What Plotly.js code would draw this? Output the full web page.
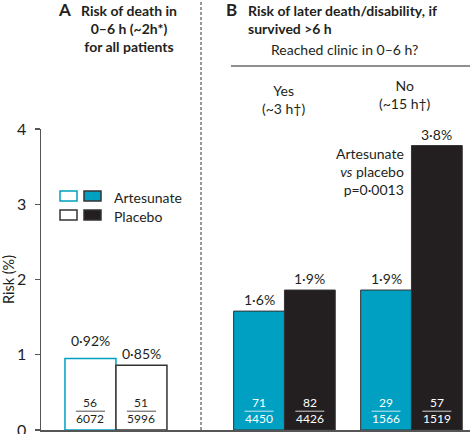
<!DOCTYPE html>
<html><head><meta charset="utf-8">
<script src="https://cdn.plot.ly/plotly-3.0.1.min.js"></script>
<style>html,body{margin:0;padding:0;background:#fff}</style>
</head><body><div id="chart" style="width:474px;height:434px"></div>
<script>
// ---- data ----
const panelACategories = ['All patients'];
const panelBCategories = ['Yes', 'No'];
const artesunateA = [0.95];
const placeboA = [0.86];
const artesunateB = [1.58, 1.86];
const placeboB = [1.86, 3.78];
const artesunateALabels = ['0·92%'];
const placeboALabels = ['0·85%'];
const artesunateBLabels = ['1·6%', '1·9%'];
const placeboBLabels = ['1·9%', '3·8%'];
const artesunateANum = ['56'], artesunateADen = ['6072'];
const placeboANum = ['51'], placeboADen = ['5996'];
const artesunateBNum = ['71', '29'], artesunateBDen = ['4450', '1566'];
const placeboBNum = ['82', '57'], placeboBDen = ['4426', '1519'];
const yTicks = [0, 1, 2, 3, 4];

// ---- styling ----
const FONT = 'Lato, "Noto Sans", sans-serif';
const TXT = '#231f20';
const CYAN = '#00a0c2';
const DARK = '#231f20';
const AXIS = '#555555';
const W = 474, H = 434, ML = 41, MR = 4, MT = 129, MB = 4;
const PW = W - ML - MR, PH = H - MT - MB;
const px = x => (x - ML) / PW;
const py = y => (H - MB - y) / PH;
const split = px(201);

const traces = [
  {type: 'bar', name: 'Artesunate', x: panelACategories, y: artesunateA, xaxis: 'x', yaxis: 'y',
   marker: {color: '#ffffff', line: {color: CYAN, width: 1.5}}, hoverinfo: 'none'},
  {type: 'bar', name: 'Placebo', x: panelACategories, y: placeboA, xaxis: 'x', yaxis: 'y',
   marker: {color: '#ffffff', line: {color: '#333333', width: 1.5}}, hoverinfo: 'none'},
  {type: 'bar', name: 'Artesunate', x: panelBCategories, y: artesunateB, xaxis: 'x2', yaxis: 'y',
   marker: {color: CYAN, line: {color: '#333333', width: 1}}, hoverinfo: 'none'},
  {type: 'bar', name: 'Placebo', x: panelBCategories, y: placeboB, xaxis: 'x2', yaxis: 'y',
   marker: {color: DARK, line: {color: '#333333', width: 1}}, hoverinfo: 'none'}
];

const annotations = [];
const shapes = [];
const OFF = 0.2, HALF = 0.114;
function addBarText(cats, vals, labels, nums, dens, xref, side, fracColor) {
  cats.forEach((c, i) => {
    annotations.push({xref: xref, yref: 'y', x: i + side * OFF, y: vals[i], yanchor: 'bottom',
      yshift: (xref === 'x' && side < 0) ? 8 : 1, text: labels[i], showarrow: false,
      font: {family: FONT, size: 14, color: TXT}});
    annotations.push({xref: xref, yref: 'y', x: i + side * OFF, y: 0.26, yanchor: 'middle',
      text: nums[i] + '<br>' + dens[i], showarrow: false,
      font: {family: FONT, size: 12, color: fracColor}});
    shapes.push({type: 'line', xref: xref, yref: 'y', x0: i + side * OFF - HALF, x1: i + side * OFF + HALF,
      y0: 0.25, y1: 0.25, line: {color: fracColor, width: 0.8}});
  });
}
addBarText(panelACategories, artesunateA, artesunateALabels, artesunateANum, artesunateADen, 'x', -1, TXT);
addBarText(panelACategories, placeboA, placeboALabels, placeboANum, placeboADen, 'x', 1, TXT);
addBarText(panelBCategories, artesunateB, artesunateBLabels, artesunateBNum, artesunateBDen, 'x2', -1, '#ffffff');
addBarText(panelBCategories, placeboB, placeboBLabels, placeboBNum, placeboBDen, 'x2', 1, '#ffffff');

function ptext(text, x, y, opts) {
  annotations.push(Object.assign({xref: 'paper', yref: 'paper', x: px(x), y: py(y), text: text,
    showarrow: false, xanchor: 'center', yanchor: 'middle',
    font: {family: FONT, size: 14, color: TXT}}, opts || {}));
}
// panel titles
ptext('<b>A</b>', 64, 9, {font: {family: FONT, size: 17, color: TXT}});
ptext('<b>Risk of death in<br>0–6 h (~2h*)<br>for all patients</b>', 128.5, 28.5);
ptext('<b>B</b>', 231, 9, {font: {family: FONT, size: 17, color: TXT}});
ptext('<b>Risk of later death/disability, if<br>survived >6 h</b>', 246, 19.5, {xanchor: 'left', align: 'left'});
ptext('Reached clinic in 0–6 h?', 344, 50);
ptext('Yes<br>(~3 h†)', 283, 99);
ptext('No<br>(~15 h†)', 405, 95);
ptext('Artesunate<br><i>vs</i> placebo<br>p=0·0013', 406, 171, {xanchor: 'right', align: 'right'});
// legend
ptext('Artesunate', 112, 197, {xanchor: 'left'});
ptext('Placebo', 112, 216, {xanchor: 'left'});
function pbox(x0, y0, x1, y1, fill, line) {
  shapes.push({type: 'rect', xref: 'paper', yref: 'paper', x0: px(x0), x1: px(x1), y0: py(y1), y1: py(y0),
    fillcolor: fill, line: {color: line, width: 1.5}});
}
pbox(60, 191, 77, 201, '#ffffff', CYAN);
pbox(84, 191, 101, 201, CYAN, '#333333');
pbox(60, 210, 77, 220, '#ffffff', '#333333');
pbox(84, 210, 101, 220, DARK, '#333333');
// dashed divider and bracket line
shapes.push({type: 'line', xref: 'paper', yref: 'paper', x0: split, x1: split, y0: 0, y1: py(0),
  line: {color: AXIS, width: 1.2, dash: '3px,2px'}});
shapes.push({type: 'line', xref: 'paper', yref: 'paper', x0: px(231), x1: px(470), y0: py(66), y1: py(66),
  line: {color: TXT, width: 1.2}});

const xbase = {type: 'category', showline: true, linecolor: AXIS, linewidth: 1.5, ticks: '',
  showticklabels: false, showgrid: false, zeroline: false, fixedrange: true};
const layout = {
  width: W, height: H, margin: {l: ML, r: MR, t: MT, b: MB, pad: 0},
  paper_bgcolor: '#ffffff', plot_bgcolor: '#ffffff', showlegend: false,
  barmode: 'group', bargap: 0.2, bargroupgap: 0,
  font: {family: FONT, color: TXT},
  xaxis: Object.assign({}, xbase, {domain: [0, split], range: [-0.588, 0.667], anchor: 'y'}),
  xaxis2: Object.assign({}, xbase, {domain: [split, 1], range: [-0.657, 1.461], anchor: 'y'}),
  yaxis: {range: [0, 4], tickvals: yTicks, ticktext: yTicks.map(String), ticks: 'outside', ticklen: 5,
    tickcolor: AXIS, tickwidth: 1.2, showline: true, linecolor: AXIS, linewidth: 1.5, showgrid: false,
    zeroline: false, tickfont: {family: FONT, size: 16, color: TXT}, fixedrange: true,
    ticklabeloverflow: 'allow', ticklabelstandoff: 5,
    title: {text: 'Risk (%)', font: {family: FONT, size: 14.5, color: TXT}, standoff: 4}},
  annotations: annotations, shapes: shapes
};
Plotly.newPlot('chart', traces, layout, {staticPlot: true, displayModeBar: false});
</script></body></html>
